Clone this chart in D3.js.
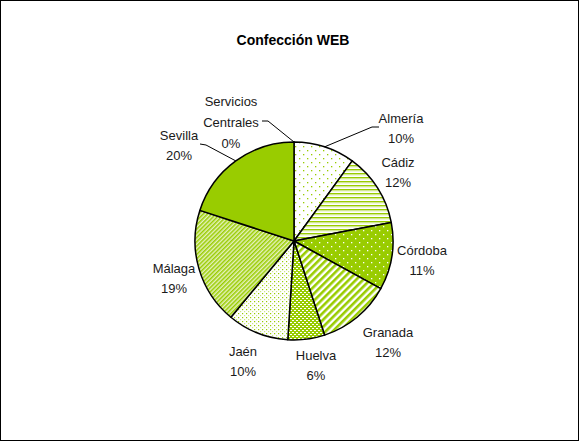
<!DOCTYPE html>
<html><head><meta charset="utf-8">
<script src="https://cdn.jsdelivr.net/npm/d3@7"></script>
<style>
body{margin:0;background:#fff;}
svg{display:block;}
.lbl{font-family:"Liberation Sans",Arial,sans-serif;font-size:13px;fill:#1a1a1a;}
</style></head>
<body><svg id="c" width="579" height="441"></svg>
<script>
const categories = ["Servicios Centrales","Almería","Cádiz","Córdoba","Granada","Huelva","Jaén","Málaga","Sevilla"];
const values = [0,10,12,11,12,6,10,19,20];
const percentLabels = ["0%","10%","12%","11%","12%","6%","10%","19%","20%"];
const title = "Confección WEB";

const svg = d3.select("#c");
const W=579,H=441;
svg.append("rect").attr("x",0.5).attr("y",0.5).attr("width",W-1).attr("height",H-1).attr("fill","#fff").attr("stroke","#000").attr("stroke-width",1);

const G="#99CC00", L="#CCE680";
const defs=svg.append("defs");
function pat(id,w,h,bg,draw,tr){
  const p=defs.append("pattern").attr("id",id).attr("patternUnits","userSpaceOnUse").attr("width",w).attr("height",h);
  if(tr) p.attr("patternTransform",tr);
  p.append("rect").attr("width",w).attr("height",h).attr("fill",bg);
  draw(p);
}
function r(p,x,y,w,h,f){p.append("rect").attr("x",x).attr("y",y).attr("width",w).attr("height",h).attr("fill",f);}
pat("p1",8,8,"#fff",p=>{r(p,1,1,1.3,1.3,G);r(p,5,5,1.3,1.3,G);});
pat("p2",4,4,"#fff",p=>{r(p,0,0,4,1.3,G);r(p,0,1.3,4,1,L);});
pat("p3",8,8,G,p=>{r(p,1,1,1.3,1.3,"#fff");r(p,5,5,1.3,1.3,"#fff");});
pat("p4",5,5,"#fff",p=>{r(p,0,0,2.6,5,G);},"rotate(45)");
pat("p5",4,4,G,p=>{r(p,0,1,2,1,"#fff");r(p,2,3,2,1,"#fff");});
pat("p6",4,4,"#fff",p=>{r(p,0,0,1.2,1.2,G);r(p,2,2,1.2,1.2,L);});
pat("p7",3,3,"#fff",p=>{r(p,0,0,1.7,3,G);r(p,1.7,0,0.8,3,L);},"rotate(45)");
const fills=[ "#fff","url(#p1)","url(#p2)","url(#p3)","url(#p4)","url(#p5)","url(#p6)","url(#p7)",G];

const cx=294, cy=241, R=99;
const pie=d3.pie().sort(null).value(d=>d)(values);
const arc=d3.arc().innerRadius(0).outerRadius(R);
const g=svg.append("g").attr("transform",`translate(${cx},${cy})`);
g.selectAll("path").data(pie).join("path").attr("d",arc)
 .attr("fill",(d,i)=>fills[i]).attr("stroke","#000").attr("stroke-width",1.5).attr("stroke-linejoin","round");

svg.append("text").attr("x",293).attr("y",45).attr("text-anchor","middle")
 .attr("font-family","Liberation Sans, Arial, sans-serif").attr("font-weight","bold").attr("font-size",14).text(title);

const labelPos=[[-63,-119],[107,-113],[104,-69],[128,19],[94,101],[22,124],[-51,120],[-120,37],[-115,-96]];
const lines=[["Servicios","Centrales"],["Almería"],["Cádiz"],["Córdoba"],["Granada"],["Huelva"],["Jaén"],["Málaga"],["Sevilla"]];
labelPos.forEach((p,i)=>{
  const rows=lines[i].concat([percentLabels[i]]);
  const n=rows.length, x=cx+p[0], y0=cy+p[1]-(n-1)*10.3;
  const t=svg.append("text").attr("class","lbl").attr("text-anchor","middle");
  rows.forEach((s,k)=>t.append("tspan").attr("x",x).attr("y",y0+k*20.6+5).text(s));
});
function leader(i,pts){
  const a=(pie[i].startAngle+pie[i].endAngle)/2;
  const e=[cx+R*Math.sin(a), cy-R*Math.cos(a)];
  svg.append("polyline").attr("points",pts.concat([e]).map(q=>q.join(",")).join(" ")).attr("fill","none").attr("stroke","#000").attr("stroke-width",1);
}
leader(0,[[262,121],[268,121]]);
leader(1,[[379,127],[372,127]]);
leader(8,[[200,144],[206,145]]);
</script></body></html>
